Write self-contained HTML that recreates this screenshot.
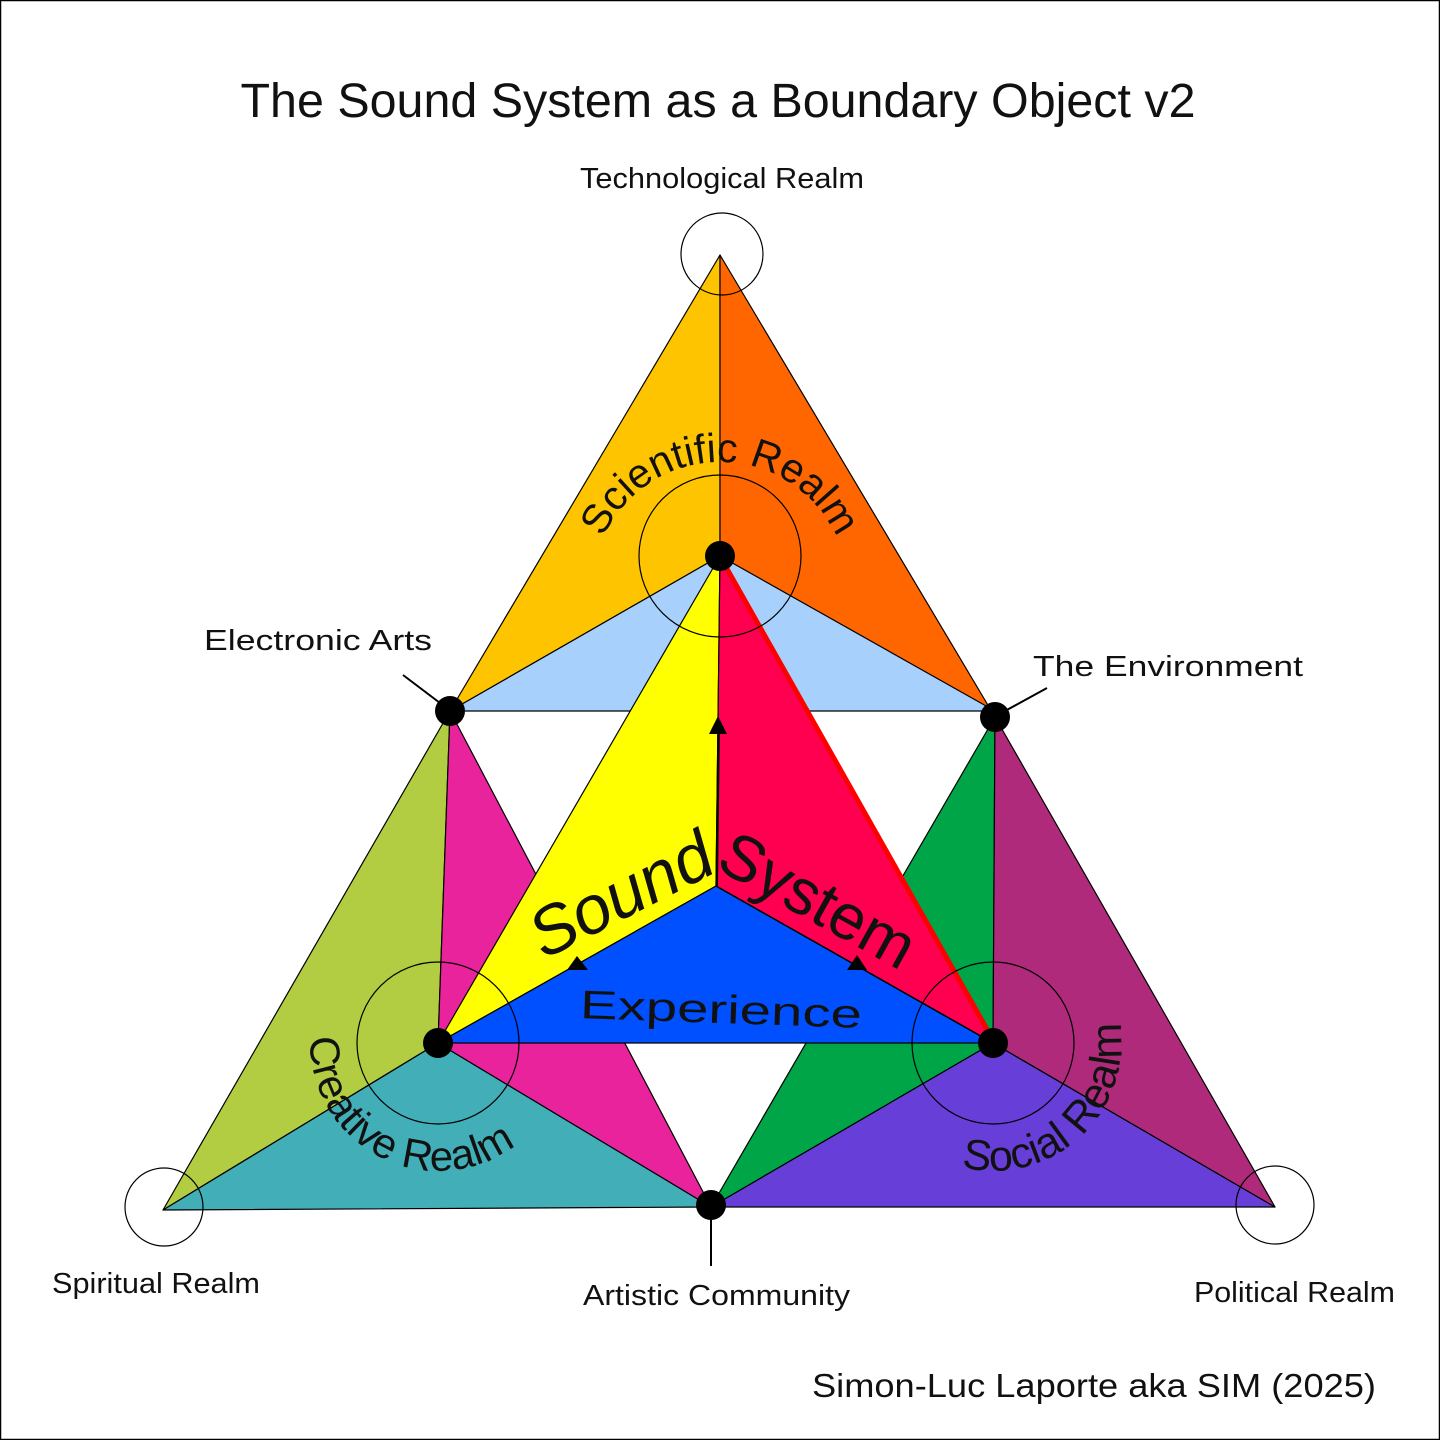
<!DOCTYPE html>
<html><head><meta charset="utf-8"><style>
html,body{margin:0;padding:0;background:#fff}
svg{display:block}
text{font-family:"Liberation Sans",sans-serif;fill:#111}
</style></head><body>
<svg width="1440" height="1440" viewBox="0 0 1440 1440" xmlns="http://www.w3.org/2000/svg">
<rect x="0.5" y="0.5" width="1439" height="1439" fill="#fff" stroke="#000" stroke-width="1.5"/>
<text x="718" y="117" font-size="48" text-anchor="middle" textLength="955" lengthAdjust="spacingAndGlyphs">The Sound System as a Boundary Object v2</text>

<g stroke="#000" stroke-width="1.2" stroke-linejoin="round">
<polygon points="720,255 450,711 720,556" fill="#FFC400"/>
<polygon points="720,255 720,556 995,717" fill="#FF6600"/>
<polygon points="720,556 450,711 995,711" fill="#A8D0FC"/>
<polygon points="450,711 163,1210 438,1043" fill="#B2CD42"/>
<polygon points="163,1210 438,1043 711,1207" fill="#42AEB8"/>
<polygon points="450,711 438,1043 711,1207" fill="#E8239C"/>
<polygon points="995,717 993,1043 711,1207" fill="#00A548"/>
<polygon points="711,1207 993,1043 1275,1207" fill="#673FD8"/>
<polygon points="995,717 1275,1207 993,1043" fill="#B02A7B"/>
<polygon points="720,556 716,886 438,1043" fill="#FFFF00"/>
<polygon points="720,556 993,1043 716,886" fill="#FF0050"/>
<polygon points="438,1043 716,886 993,1043" fill="#0050FF"/>
</g>
<line x1="722" y1="560" x2="993" y2="1040" stroke="#FF0000" stroke-width="5"/>
<line x1="716" y1="886" x2="993" y2="1043" stroke="#000" stroke-width="1.5"/>
<line x1="717" y1="886" x2="719" y2="720" stroke="#000" stroke-width="2"/>
<polygon points="718,716 709,734 727,734" fill="#000"/>
<polygon points="577,956 567,970 588,970" fill="#000"/>
<polygon points="857,955 847,970 867,970" fill="#000"/>

<g fill="none" stroke="#000" stroke-width="1.2">
<circle cx="722" cy="254" r="41"/>
<circle cx="164" cy="1207" r="39"/>
<circle cx="1275" cy="1205" r="39"/>
<circle cx="720" cy="556" r="81"/>
<circle cx="438" cy="1043" r="81"/>
<circle cx="993" cy="1043" r="81"/>
</g>
<g fill="#000">
<circle cx="720" cy="556" r="15"/>
<circle cx="450" cy="711" r="15"/>
<circle cx="995" cy="717" r="15"/>
<circle cx="438" cy="1043" r="15"/>
<circle cx="993" cy="1043" r="15"/>
<circle cx="711" cy="1205" r="15"/>
</g>
<g stroke="#000" stroke-width="2">
<line x1="403" y1="675" x2="440" y2="703"/>
<line x1="1005" y1="711" x2="1047" y2="688"/>
<line x1="711" y1="1210" x2="711" y2="1266"/>
</g>

<defs>
<path id="arcTop" d="M 592,590 A 128,128 0 0 1 848,590"/>
<path id="arcLeft" d="M 312,1021 A 128,128 0 0 0 528,1134"/>
<path id="arcRight" d="M 949,1163 A 128,128 0 0 0 1117,1010"/>
</defs>
<text font-size="41"><textPath href="#arcTop" startOffset="50%" text-anchor="middle">Scientific Realm</textPath></text>
<text font-size="42"><textPath href="#arcLeft" startOffset="50%" text-anchor="middle">Creative Realm</textPath></text>
<text font-size="43"><textPath href="#arcRight" startOffset="50%" text-anchor="middle">Social Realm</textPath></text>

<text x="620" y="918" font-size="68" font-style="italic" text-anchor="middle" transform="rotate(-27 620 893)">Sound</text>
<text x="818" y="922" font-size="64" text-anchor="middle" transform="rotate(29 818 900)">System</text>
<text x="721" y="1023" font-size="40" text-anchor="middle" transform="rotate(2 720 1010)" textLength="282" lengthAdjust="spacingAndGlyphs">Experience</text>

<g font-size="29">
<text x="722" y="188" text-anchor="middle" textLength="284" lengthAdjust="spacingAndGlyphs">Technological Realm</text>
<text x="204" y="650" textLength="228" lengthAdjust="spacingAndGlyphs">Electronic Arts</text>
<text x="1033" y="676" textLength="270" lengthAdjust="spacingAndGlyphs">The Environment</text>
<text x="52" y="1293" textLength="208" lengthAdjust="spacingAndGlyphs">Spiritual Realm</text>
<text x="583" y="1305" textLength="267" lengthAdjust="spacingAndGlyphs">Artistic Community</text>
<text x="1194" y="1302" textLength="201" lengthAdjust="spacingAndGlyphs">Political Realm</text>
</g>
<text x="812" y="1397" font-size="33" textLength="564" lengthAdjust="spacingAndGlyphs">Simon-Luc Laporte aka SIM (2025)</text>
</svg>
</body></html>
